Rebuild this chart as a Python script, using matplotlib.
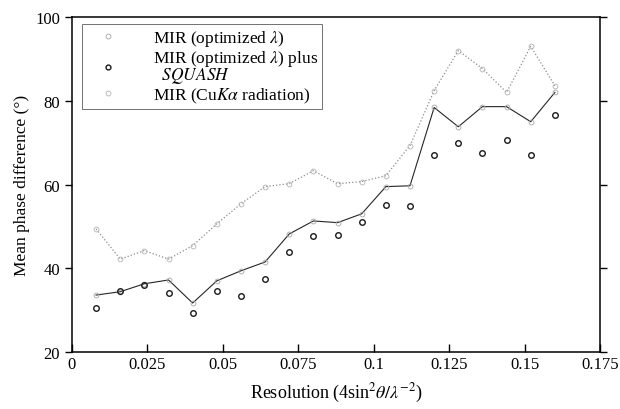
import numpy as np
import matplotlib.pyplot as plt
from matplotlib.lines import Line2D

plt.rcParams['font.family'] = ['Liberation Serif', 'DejaVu Serif']
plt.rcParams['mathtext.fontset'] = 'stix'

# Resolution (4 sin^2 theta / lambda^-2)
resolution = [0.008, 0.016, 0.024, 0.032, 0.040, 0.048, 0.056, 0.064, 0.072, 0.080,
              0.088, 0.096, 0.104, 0.112, 0.120, 0.128, 0.136, 0.144, 0.152, 0.160]

# MIR (optimized lambda)
mir_opt = [33.6, 34.4, 36.3, 37.2, 31.7, 37.0, 39.4, 41.5, 48.2, 51.3,
           50.9, 53.0, 59.5, 59.7, 78.4, 73.8, 78.6, 78.6, 75.0, 82.0]

# MIR (optimized lambda) plus SQUASH
mir_squash = [30.5, 34.5, 36.0, 34.1, 29.3, 34.6, 33.4, 37.5, 43.9, 47.7,
              48.0, 51.1, 55.2, 54.9, 67.1, 70.0, 67.6, 70.7, 67.1, 76.7]

# MIR (Cu K alpha radiation)
mir_cuka = [49.4, 42.2, 44.2, 42.2, 45.4, 50.6, 55.4, 59.5, 60.2, 63.3,
            60.2, 60.7, 62.1, 69.3, 82.4, 92.0, 87.7, 82.0, 93.0, 83.6]

xticks = [0, 0.025, 0.05, 0.075, 0.1, 0.125, 0.15, 0.175]
xlabels = ['0', '0.025', '0.05', '0.075', '0.1', '0.125', '0.15', '0.175']
yticks = [20, 40, 60, 80, 100]

fig = plt.figure(figsize=(6.2, 4.1), dpi=100)
ax = fig.add_axes([0.116, 0.139, 0.852, 0.817])

ax.plot(resolution, mir_opt, '-', color='0.15', lw=0.8,
        marker='o', ms=3.5, mfc='none', mec='0.65', mew=0.6)
ax.plot(resolution, mir_squash, 'o', ms=4, mfc='none', mec='0.1', mew=1.0)
ax.plot(resolution, mir_cuka, ':', color='0.55', lw=0.9,
        marker='o', ms=3.5, mfc='none', mec='0.7', mew=0.6)

ax.set_xlim(0, 0.175)
ax.set_ylim(20, 100)
ax.set_xticks(xticks)
ax.set_xticklabels(xlabels)
ax.set_yticks(yticks)
ax.tick_params(axis='x', direction='in', length=6, width=1.0, labelsize=12, pad=3)
ax.tick_params(axis='y', direction='out', length=5, width=1.0, labelsize=12,
               right=True)
for s in ax.spines.values():
    s.set_linewidth(1.1)

ax.set_xlabel(r'Resolution (4sin$^2\theta/\lambda^{-2}$)', fontsize=13, labelpad=6)
ax.set_ylabel('Mean phase difference (°)', fontsize=12.5, labelpad=4)

handles = [
    Line2D([], [], ls='none', marker='o', ms=3.5, mfc='none', mec='0.65', mew=0.6),
    Line2D([], [], ls='none', marker='o', ms=3.5, mfc='none', mec='0.1', mew=1.0),
    Line2D([], [], ls='none', marker='o', ms=3.5, mfc='none', mec='0.7', mew=0.6),
]
labels = [r'MIR (optimized $\lambda$)',
          'MIR (optimized $\\lambda$) plus\n  $\\it{SQUASH}$',
          r'MIR (Cu$K\alpha$ radiation)']
leg = ax.legend(handles, labels, loc='upper left', bbox_to_anchor=(0.013, 0.99),
                fontsize=12.5, frameon=True, fancybox=False, edgecolor='0.3',
                handlelength=2.5, handletextpad=1.3, labelspacing=0.0,
                borderpad=0.25, borderaxespad=0.2)
leg.get_frame().set_linewidth(0.7)
for t in leg.get_texts():
    t.set_linespacing(0.8)

fig.savefig('out.png', dpi=100)
